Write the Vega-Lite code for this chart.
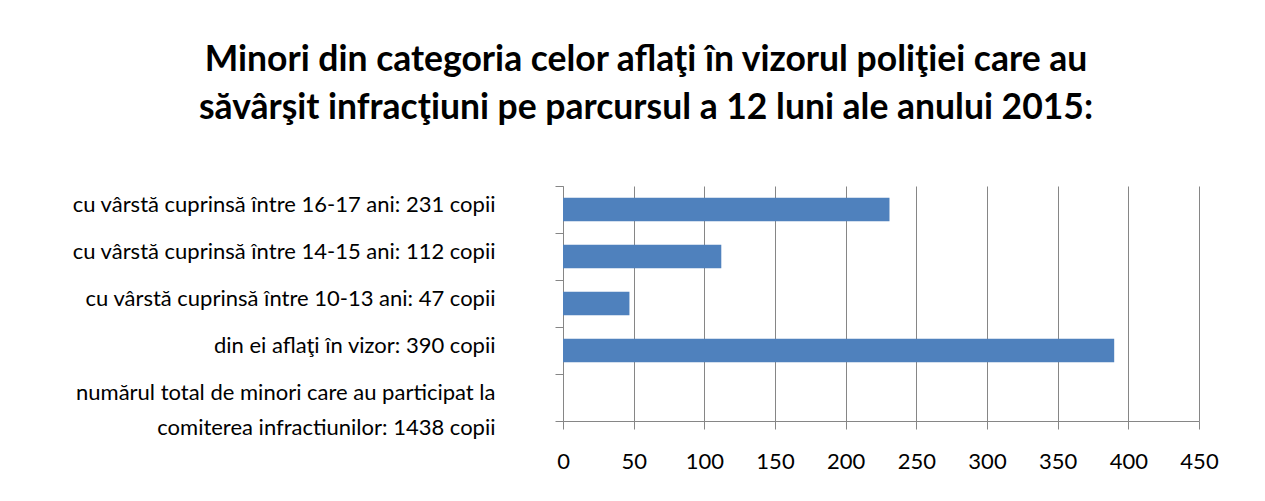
{
  "$schema": "https://vega.github.io/schema/vega-lite/v6.json",
  "width": 636,
  "height": 235,
  "autosize": {"type": "none"},
  "padding": {"left": 563, "top": 186, "right": 66, "bottom": 80},
  "background": "white",
  "title": {
    "text": ["Minori din categoria celor aflaţi în vizorul poliţiei care au", "săvârşit infracţiuni pe parcursul a 12 luni ale anului 2015:"],
    "anchor": "middle",
    "frame": "group",
    "dx": -235,
    "offset": 14,
    "baseline": "bottom",
    "font": "Lato",
    "fontSize": 35.5,
    "fontWeight": "bold",
    "lineHeight": 48,
    "color": "black"
  },
  "data": {
    "values": [
      {"categorie": "cu vârstă cuprinsă între 16-17 ani: 231 copii", "copii": 231},
      {"categorie": "cu vârstă cuprinsă între 14-15 ani: 112 copii", "copii": 112},
      {"categorie": "cu vârstă cuprinsă între 10-13 ani: 47 copii", "copii": 47},
      {"categorie": "din ei aflaţi în vizor: 390 copii", "copii": 390}
    ]
  },
  "mark": {"type": "bar", "color": "#4F81BD", "height": {"band": 0.5}},
  "encoding": {
    "y": {
      "field": "categorie",
      "type": "nominal",
      "sort": null,
      "scale": {
        "domain": [
          "cu vârstă cuprinsă între 16-17 ani: 231 copii",
          "cu vârstă cuprinsă între 14-15 ani: 112 copii",
          "cu vârstă cuprinsă între 10-13 ani: 47 copii",
          "din ei aflaţi în vizor: 390 copii",
          "numărul total de minori care au participat la\ncomiterea infractiunilor: 1438 copii"
        ],
        "paddingInner": 0,
        "paddingOuter": 0
      },
      "axis": {
        "title": null,
        "labelExpr": "split(datum.label, '\\n')",
        "labelFont": "Lato",
        "labelFontSize": 22,
        "labelColor": "black",
        "labelLimit": 0,
        "labelLineHeight": 35,
        "labelBaseline": "middle",
        "labelAlign": "right",
        "labelPadding": 60,
        "labelOffset": -5,
        "tickBand": "extent",
        "tickSize": 8,
        "tickColor": "#868686",
        "domainColor": "#868686",
        "grid": false
      }
    },
    "x": {
      "field": "copii",
      "type": "quantitative",
      "scale": {"domain": [0, 450], "nice": false},
      "axis": {
        "title": null,
        "values": [0, 50, 100, 150, 200, 250, 300, 350, 400, 450],
        "labelFont": "Lato",
        "labelFontSize": 22,
        "labelColor": "black",
        "labelPadding": 22,
        "labelFlush": false,
        "tickSize": 8,
        "tickColor": "#868686",
        "domainColor": "#868686",
        "grid": true,
        "gridColor": "#868686",
        "gridOpacity": 1
      }
    }
  },
  "config": {
    "view": {"stroke": null}
  }
}
